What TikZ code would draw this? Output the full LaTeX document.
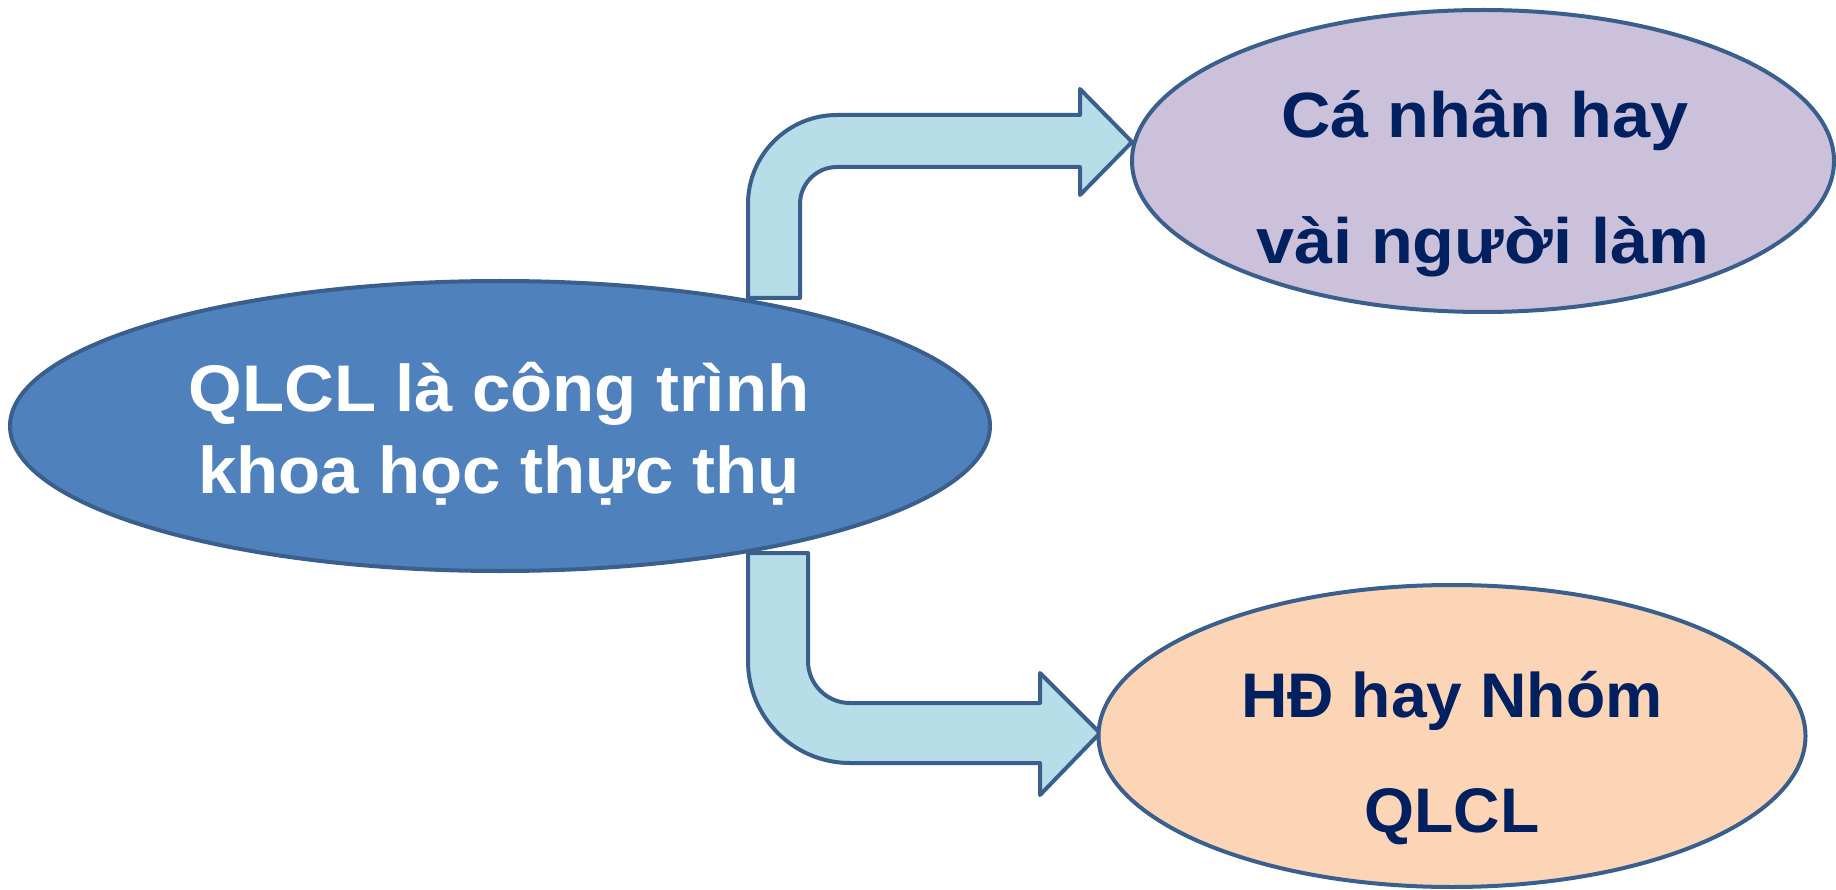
\documentclass[tikz,border=0pt]{standalone}
\usepackage{fontspec}
\usetikzlibrary{shapes.geometric}
% Bold sans faces, slightly widened as in the slide artwork
\newfontfamily\mainLabelFont[FakeStretch=1.045]{Liberation Sans}
\newfontfamily\soloLabelFont[FakeStretch=1.07]{Liberation Sans}
\newfontfamily\groupLabelFont[FakeStretch=1.02]{Liberation Sans}
\definecolor{edgeblue}{HTML}{3A5F8C}
\definecolor{mainfill}{HTML}{4F81BD}
\definecolor{solofill}{HTML}{CCC1DA}
\definecolor{groupfill}{HTML}{FBD5B5}
\definecolor{arrowfill}{HTML}{B7DEE8}
\definecolor{navytext}{HTML}{002060}
\tikzset{
  bubble/.style={ellipse, draw=edgeblue, line width=4pt, inner sep=0pt},
  blockarrow/.style={draw=edgeblue, fill=arrowfill, line width=4pt, line join=round},
  label/.style={anchor=base, inner sep=0pt},
}
\begin{document}
\begin{tikzpicture}[x=1pt,y=-1pt]
\useasboundingbox (0,0) rectangle (1836,890);

% bent block arrow up to the right
\draw[blockarrow]
  (748,298) -- (748,204)
  .. controls (748,154.8) and (787.8,115) .. (837,115)
  -- (1080,115) -- (1080,89) -- (1132,142) -- (1080,195) -- (1080,167)
  -- (837,167)
  .. controls (816.6,167) and (800,183.6) .. (800,204)
  -- (800,298) -- cycle;

% bent block arrow down to the right
\draw[blockarrow]
  (748,553) -- (748,661)
  .. controls (748,717.3) and (793.7,763) .. (850,763)
  -- (1040,763) -- (1040,795) -- (1100,733) -- (1040,673) -- (1040,703)
  -- (850,703)
  .. controls (826.8,703) and (808,684.2) .. (808,661)
  -- (808,553) -- cycle;

% ellipses
\node[bubble, fill=mainfill, minimum width=980pt, minimum height=290pt] (main) at (500,426) {};
\node[bubble, fill=solofill, minimum width=702pt, minimum height=302pt] (solo) at (1483,161) {};
\node[bubble, fill=groupfill, minimum width=707pt, minimum height=302pt] (group) at (1452,736) {};

% texts
\begin{scope}[every node/.style={label}]
  \node[text=white, font=\mainLabelFont\bfseries\fontsize{66}{66}\selectfont] (mainA) at (499,411) {QLCL là công trình};
  \node[text=white, font=\mainLabelFont\bfseries\fontsize{66}{66}\selectfont] (mainB) at (499,493) {khoa học thực thụ};
  \node[text=navytext, font=\soloLabelFont\bfseries\fontsize{64}{64}\selectfont] (soloA) at (1485,138) {Cá nhân hay};
  \node[text=navytext, font=\soloLabelFont\bfseries\fontsize{64}{64}\selectfont] (soloB) at (1483,264) {vài người làm};
  \node[text=navytext, font=\groupLabelFont\bfseries\fontsize{63}{63}\selectfont] (groupA) at (1452,717) {HĐ hay Nhóm};
  \node[text=navytext, font=\groupLabelFont\bfseries\fontsize{63}{63}\selectfont] (groupB) at (1452,832) {QLCL};
\end{scope}
\end{tikzpicture}
\end{document}
